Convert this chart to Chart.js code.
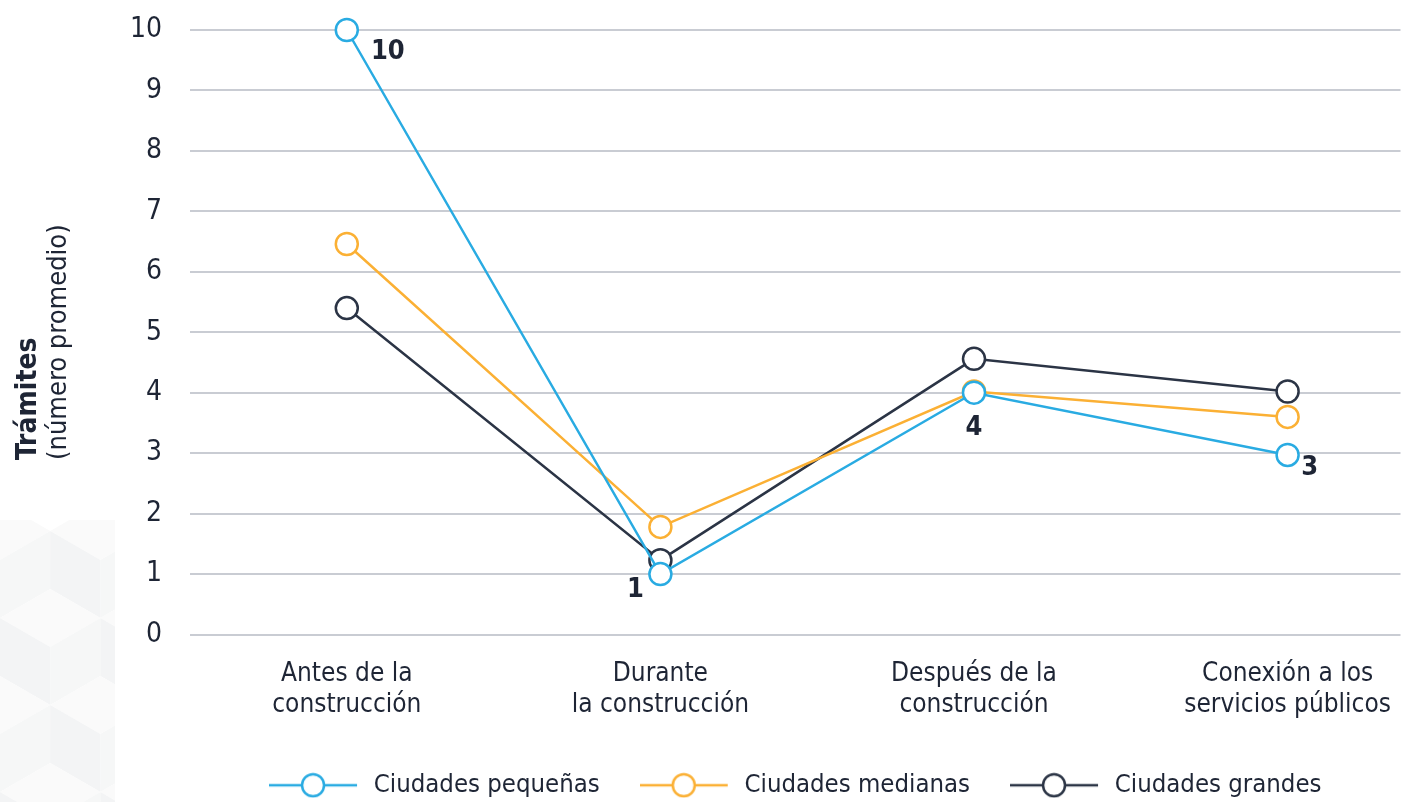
<!DOCTYPE html>
<html>
<head>
<meta charset="utf-8">
<script src="https://cdn.jsdelivr.net/npm/chart.js@4.4.0/dist/chart.umd.min.js"></script>
<style>
  html, body { margin: 0; padding: 0; background: #fff; overflow: hidden; }
  #wrap { width: 1402px; height: 802px; overflow: hidden; }
</style>
</head>
<body>
<div id="wrap"><canvas id="myChart" width="1414" height="808"></canvas></div>
<script>
// data
var categories = [
  ['Antes de la', 'construcción'],
  ['Durante', 'la construcción'],
  ['Después de la', 'construcción'],
  ['Conexión a los', 'servicios públicos']
];
var pequenas = [10, 1, 4, 2.97];
var medianas = [6.46, 1.78, 4.02, 3.6];
var grandes = [5.4, 1.23, 4.56, 4.02];
var labelsPequenas = ['10', '1', '4', '3'];
var yTicks = [0, 1, 2, 3, 4, 5, 6, 7, 8, 9, 10];

const FONT = "'Liberation Sans Narrow', 'DejaVu Sans Condensed', sans-serif";
const TEXT = '#1e2535';
const BLUE = '#29abe2';
const ORANGE = '#fbb034';
const NAVY = '#2b3445';

function toPoints(arr) {
  return arr.map((v, i) => ({ x: i, y: v }));
}

// legend symbol: line - circle - line (a little blank room on the right)
function legendSymbol(color) {
  const c = document.createElement('canvas');
  c.width = 92; c.height = 26;
  const g = c.getContext('2d');
  g.strokeStyle = color;
  g.lineWidth = 2.5;
  g.beginPath();
  g.moveTo(0, 13); g.lineTo(33, 13);
  g.moveTo(55, 13); g.lineTo(88, 13);
  g.stroke();
  g.beginPath();
  g.arc(44, 13, 11, 0, Math.PI * 2);
  g.fillStyle = '#fff';
  g.fill();
  g.stroke();
  return c;
}

const extras = {
  id: 'extras',
  beforeDraw(chart) {
    // faint cube pattern bottom-left
    const g = chart.ctx;
    g.save();
    g.beginPath();
    g.rect(0, 520, 115, 300);
    g.clip();
    const s = 58;
    for (let row = 0; row < 4; row++) {
      for (let col = -1; col < 2; col++) {
        const cx = col * s * 1.732 + (row % 2) * s * 0.866;
        const cy = 560 + row * s * 1.5;
        g.fillStyle = '#fafafa';
        g.beginPath();
        g.moveTo(cx, cy - s); g.lineTo(cx + s * 0.866, cy - s / 2);
        g.lineTo(cx, cy); g.lineTo(cx - s * 0.866, cy - s / 2);
        g.closePath(); g.fill();
        g.fillStyle = '#f3f4f5';
        g.beginPath();
        g.moveTo(cx - s * 0.866, cy - s / 2); g.lineTo(cx, cy);
        g.lineTo(cx, cy + s); g.lineTo(cx - s * 0.866, cy + s / 2);
        g.closePath(); g.fill();
        g.fillStyle = '#f6f7f7';
        g.beginPath();
        g.moveTo(cx + s * 0.866, cy - s / 2); g.lineTo(cx, cy);
        g.lineTo(cx, cy + s); g.lineTo(cx + s * 0.866, cy + s / 2);
        g.closePath(); g.fill();
      }
    }
    g.restore();
  },
  afterDraw(chart) {
    const g = chart.ctx;
    g.save();
    // y axis title
    g.translate(0, 460);
    g.rotate(-Math.PI / 2);
    g.textAlign = 'left';
    g.textBaseline = 'middle';
    g.fillStyle = TEXT;
    g.font = 'bold 28px ' + FONT;
    g.fillText('Trámites', 0, 29);
    g.font = '27px ' + FONT;
    g.fillText('(número promedio)', 0, 59);
    g.restore();

    // value labels for small cities
    const meta = chart.getDatasetMeta(0);
    const offs = [[41, 22], [-25, 16], [0, 35], [22, 13]];
    g.save();
    g.font = 'bold 27px ' + FONT;
    g.fillStyle = TEXT;
    g.textAlign = 'center';
    g.textBaseline = 'middle';
    meta.data.forEach((pt, i) => {
      g.fillText(labelsPequenas[i], pt.x + offs[i][0], pt.y + offs[i][1]);
    });
    g.restore();
  }
};

const ctx = document.getElementById('myChart');
const myChart = new Chart(ctx, {
  type: 'line',
  data: {
    datasets: [
      { label: 'Ciudades pequeñas', data: toPoints(pequenas), borderColor: BLUE, symbol: legendSymbol(BLUE) },
      { label: 'Ciudades medianas', data: toPoints(medianas), borderColor: ORANGE, symbol: legendSymbol(ORANGE) },
      { label: 'Ciudades grandes', data: toPoints(grandes), borderColor: NAVY, symbol: legendSymbol(NAVY) }
    ].map(d => Object.assign(d, {
      borderWidth: 2.5,
      pointRadius: 11,
      pointHoverRadius: 11,
      pointBorderWidth: 2.5,
      pointBackgroundColor: '#fff',
      pointBorderColor: d.borderColor,
      tension: 0,
      clip: false
    }))
  },
  options: {
    responsive: false,
    animation: false,
    layout: { padding: { top: 30, left: 0, right: 0, bottom: 0 } },
    plugins: {
      tooltip: { enabled: false },
      legend: {
        position: 'bottom',
        fullSize: false,
        labels: {
          usePointStyle: true,
          pointStyleWidth: 92,
          padding: 40,
          color: TEXT,
          font: { family: FONT, size: 25.5 },
          generateLabels(chart) {
            return chart.data.datasets.map((d, i) => ({
              text: d.label,
              pointStyle: d.symbol,
              fontColor: TEXT,
              datasetIndex: i,
              lineWidth: 0,
              strokeStyle: 'transparent',
              fillStyle: 'transparent'
            }));
          }
        }
      }
    },
    scales: {
      x: {
        type: 'linear',
        min: -0.5,
        max: 3.36,
        grid: { display: false },
        border: { display: false },
        afterBuildTicks(scale) {
          scale.ticks = categories.map((c, i) => ({ value: i }));
        },
        afterFit(scale) {
          scale.height = 98;
          scale.paddingLeft = 0;
          scale.paddingRight = 0;
        },
        ticks: {
          padding: 16,
          maxRotation: 0,
          autoSkip: false,
          color: TEXT,
          font: { family: FONT, size: 26, lineHeight: 1.2 },
          callback: v => categories[v]
        }
      },
      y: {
        min: 0,
        max: 10,
        afterBuildTicks(scale) {
          scale.ticks = yTicks.map(v => ({ value: v }));
        },
        afterFit(scale) {
          scale.width = 190;
          scale.paddingTop = 0;
          scale.paddingBottom = 0;
        },
        grid: { color: '#c9ccd3', lineWidth: 2, drawTicks: false },
        border: { display: false },
        ticks: {
          padding: 28,
          color: TEXT,
          font: { family: FONT, size: 28 }
        }
      }
    }
  },
  plugins: [extras]
});
</script>
</body>
</html>
